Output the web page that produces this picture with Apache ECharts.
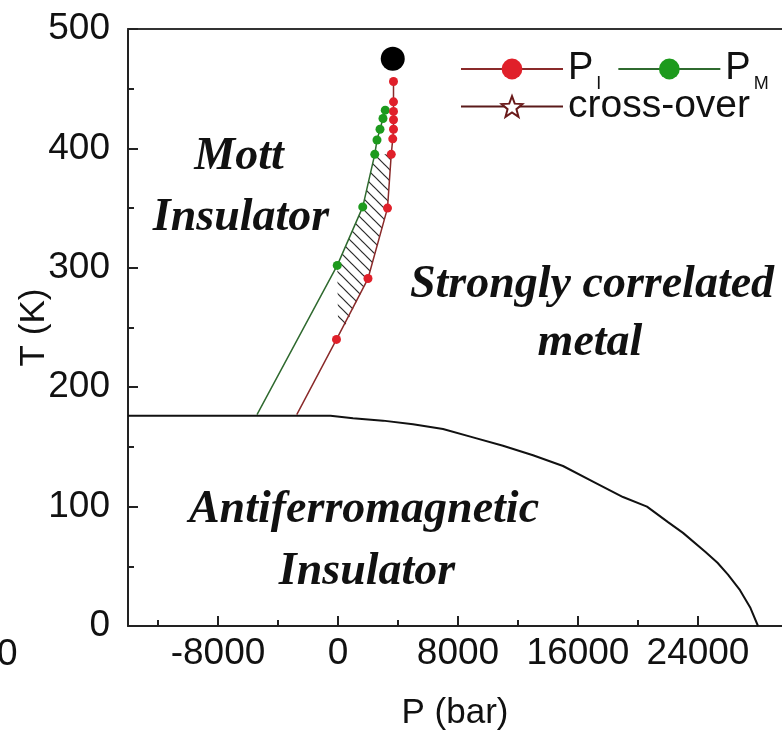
<!DOCTYPE html>
<html><head><meta charset="utf-8">
<script src="https://cdn.jsdelivr.net/npm/echarts@6/dist/echarts.min.js"></script>
<style>html,body{margin:0;padding:0;background:#fff}#c{width:782px;height:740px}</style>
</head><body><div id="c"></div>
<script>
// Antiferromagnetic boundary
const afP = [-14000,-500,1000,3000,5000,7000,9000,11000,13000,15000,17000,19000,20600,22000,23000,24500,25300,26000,26800,27500,28000];
const afT = [176,176,174,172,169,165,158,151,143,134,121,108,100,87,78,62,53,43,30,15,0];
// P_I (red)
const piP = [-2750,-100,2000,3300,3550,3650,3700,3700,3700,3700,3700];
const piT = [177,240,291,350,395,408,416,424,431,439,456];
// P_M (green)
const pmP = [-5400,-50,1650,2450,2600,2800,3000,3150];
const pmT = [177,302,351,395,407,416,425,432];
// critical point
const critP = [3650];
const critT = [475];
// hatched coexistence region boundary
const hatchP = [-50,1650,2450,3550,3300,2000,500,0];
const hatchT = [302,351,395,395,350,291,252,255];
// ticks
const xLabelVals = [-8000,0,8000,16000,24000];
const xMinorVals = [-12000,-4000,4000,12000,20000];
const xMin = -14000, xMax = 29600;
const yMin = 0, yMax = 500, yStep = 100;

const zip = (a,b)=>a.map((v,i)=>[v,b[i]]);
const noFirst = arr => arr.map((p,i)=> i===0 ? {value:p, symbol:'none'} : p);

// hatch pattern
const pc = document.createElement('canvas');
pc.width = 11; pc.height = 11;
const g = pc.getContext('2d');
g.strokeStyle = '#2a2a2a'; g.lineWidth = 1.2;
g.beginPath(); g.moveTo(-1,-1); g.lineTo(12,12); g.stroke();
g.beginPath(); g.moveTo(-1,10); g.lineTo(1,12); g.stroke();
g.beginPath(); g.moveTo(10,-1); g.lineTo(12,1); g.stroke();

const chart = echarts.init(document.getElementById('c'), null, {renderer:'canvas'});
const serifFont = 'italic bold 46px "Liberation Serif", "Times New Roman", serif';
const sansF = '"Liberation Sans", Arial, sans-serif';

const starPath = 'path://M12,1 L14.9,8.6 L23,9 L16.7,14.2 L18.9,22 L12,17.6 L5.1,22 L7.3,14.2 L1,9 L9.1,8.6 Z';

const option = {
  backgroundColor:'#fff',
  animation:false,
  grid:{left:128, right:0, top:29, bottom:114, containLabel:false, outerBoundsMode:'none'},
  xAxis:[
    {type:'value', min:xMin, max:xMax, position:'bottom',
     name:'P (bar)', nameLocation:'middle', nameGap:70, nameMoveOverlap:false,
     nameTextStyle:{fontSize:35, fontFamily:sansF, color:'#111'},
     axisLine:{show:true, onZero:false, lineStyle:{color:'#222', width:2}},
     axisTick:{show:true, inside:true, length:10, customValues:xLabelVals, lineStyle:{color:'#222', width:2}},
     axisLabel:{show:true, customValues:xLabelVals, hideOverlap:false, formatter:v=>String(v),
       fontSize:37, fontFamily:sansF, color:'#111', margin:9},
     splitLine:{show:false}},
    {type:'value', min:xMin, max:xMax, position:'bottom',
     axisLine:{show:false, onZero:false},
     axisTick:{show:true, inside:true, length:6, customValues:xMinorVals, lineStyle:{color:'#222', width:2}},
     axisLabel:{show:false}, splitLine:{show:false}},
    {type:'value', min:xMin, max:xMax, position:'top',
     axisLine:{show:true, onZero:false, lineStyle:{color:'#333', width:2}},
     axisTick:{show:false}, axisLabel:{show:false}, splitLine:{show:false}}
  ],
  yAxis:[{type:'value', min:yMin, max:yMax, interval:yStep, position:'left',
     name:'T (K)', nameLocation:'middle', nameGap:76, nameMoveOverlap:false,
     nameTextStyle:{fontSize:35, fontFamily:sansF, color:'#111'},
     axisLine:{show:true, onZero:false, lineStyle:{color:'#222', width:2}},
     axisTick:{show:true, inside:true, length:10, lineStyle:{color:'#222', width:2}},
     minorTick:{show:true, splitNumber:2, length:6, lineStyle:{color:'#222', width:2}},
     axisLabel:{fontSize:37, fontFamily:sansF, color:'#111', margin:18},
     splitLine:{show:false}, minorSplitLine:{show:false}}],
  legend:[
    {data:['PI','PM'], left:455, top:45, itemWidth:102, itemHeight:26, itemGap:16,
     selectedMode:false,
     formatter: n => n==='PI' ? '{p|P}{s|I}' : '{p|P}{s|M}',
     textStyle:{color:'#111', rich:{
       p:{fontSize:38, fontFamily:sansF, color:'#111'},
       s:{fontSize:18, fontFamily:sansF, color:'#111', padding:[30,0,0,3]}}}},
    {data:['cross-over'], left:455, top:82, itemWidth:102, itemHeight:26,
     selectedMode:false,
     textStyle:{color:'#111', fontSize:39, fontFamily:sansF}}
  ],
  graphic:[
    {type:'text', left:-3, top:636, style:{text:'0', font:'37px "Liberation Sans"', fill:'#111'}},
    {type:'text', x:239, y:157, style:{text:'Mott', font:serifFont, fill:'#111', align:'center', verticalAlign:'middle'}},
    {type:'text', x:241, y:218, style:{text:'Insulator', font:serifFont, fill:'#111', align:'center', verticalAlign:'middle'}},
    {type:'text', x:592, y:285, style:{text:'Strongly correlated', font:serifFont, fill:'#111', align:'center', verticalAlign:'middle'}},
    {type:'text', x:590, y:343, style:{text:'metal', font:serifFont, fill:'#111', align:'center', verticalAlign:'middle'}},
    {type:'text', x:364, y:510, style:{text:'Antiferromagnetic', font:serifFont, fill:'#111', align:'center', verticalAlign:'middle'}},
    {type:'text', x:367, y:572, style:{text:'Insulator', font:serifFont, fill:'#111', align:'center', verticalAlign:'middle'}}
  ],
  series:[
    {type:'custom', name:'hatch', xAxisIndex:0, yAxisIndex:0, z:1, silent:true,
     data:[[0]],
     renderItem:(params, api)=>{
       const pts = hatchP.map((p,i)=>api.coord([p, hatchT[i]]));
       return {type:'polygon', shape:{points:pts}, style:{fill:{image:pc, repeat:'repeat'}, stroke:null}};
     }},
    {type:'line', name:'AF', data:zip(afP, afT), symbol:'none', z:3,
     lineStyle:{color:'#111', width:2}},
    {type:'line', name:'PM', data:noFirst(zip(pmP, pmT)), symbol:'circle', symbolSize:9, z:4,
     lineStyle:{color:'#2f6a2f', width:1.5}, itemStyle:{color:'#1d9a1d'}},
    {type:'line', name:'PI', data:noFirst(zip(piP, piT)), symbol:'circle', symbolSize:9, z:5,
     lineStyle:{color:'#8a2a2a', width:1.5}, itemStyle:{color:'#e0202a'}},
    {type:'line', name:'cross-over', data:[], symbol:starPath, symbolSize:14,
     lineStyle:{color:'#5a1a1a', width:1.5}, itemStyle:{color:'#fff', borderColor:'#6a1a1a', borderWidth:1.5}},
    {type:'scatter', name:'critical', data:zip(critP, critT), symbolSize:24, z:6,
     itemStyle:{color:'#000', opacity:1}}
  ]
};
chart.setOption(option);
</script></body></html>
